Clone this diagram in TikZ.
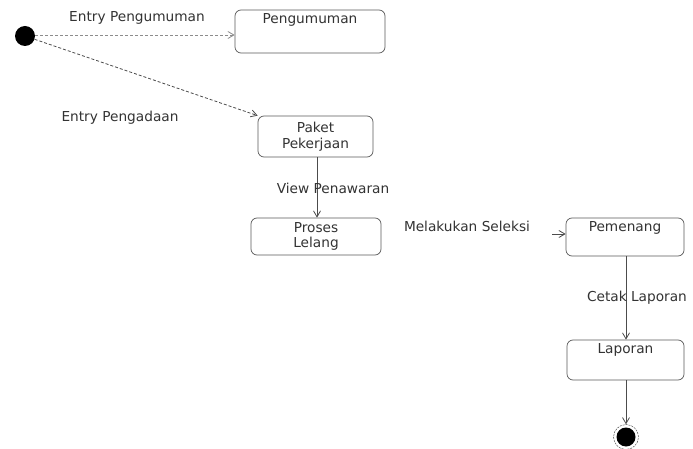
\documentclass[tikz,border=0pt]{standalone}
\usepackage{fontspec}
\setmainfont{DejaVu Sans}
\usetikzlibrary{arrows.meta}
\begin{document}
\begin{tikzpicture}[x=1pt,y=-1pt,
  font=\fontsize{13.7}{15.5}\selectfont,
  statebox/.style={draw=black!65, line width=0.7pt, rounded corners=6pt, inner sep=0pt, fill=white},
  tlabel/.style={text=black!80, inner sep=0pt, align=center},
  flow/.style={draw=black!70, line width=0.8pt, -{Straight Barb[length=6pt,width=7pt]}},
  dflow/.style={flow, dash pattern=on 3pt off 2pt},
]
\useasboundingbox[fill=white] (0,0) rectangle (693,449);

% states
\node[circle, fill=black, minimum size=20pt, inner sep=0pt] (init) at (25,36) {};
\node[statebox, minimum width=150pt, minimum height=43pt,
      label={[tlabel, anchor=north, yshift=-4pt]north:Pengumuman}] (peng) at (310,31.5) {};
\node[statebox, minimum width=115pt, minimum height=41pt, tlabel] (paket) at (315.5,136.5) {Paket\\Pekerjaan};
\node[statebox, minimum width=130pt, minimum height=37pt, tlabel] (proses) at (316,236.5) {Proses\\Lelang};
\node[statebox, minimum width=118pt, minimum height=38pt,
      label={[tlabel, anchor=north, yshift=-4pt]north:Pemenang}] (pemenang) at (625,237) {};
\node[statebox, minimum width=117pt, minimum height=40pt,
      label={[tlabel, anchor=north, yshift=-4pt]north:Laporan}] (laporan) at (625.5,360) {};
\node[circle, fill=black, minimum size=19pt, inner sep=0pt] (final) at (626,437) {};
\node[circle, draw=black!80, dash pattern=on 2pt off 1pt, minimum size=25pt, inner sep=0pt] (finalring) at (626,437) {};

% transitions
\draw[dflow, draw=black!45] (init.east) ++(0,-1) coordinate (initE) -- (peng.west |- initE);
\draw[dflow] (init) -- (paket.north west);
\draw[flow] (paket.south -| 317,0) coordinate (pkS) -- (proses.north -| pkS);
\coordinate (selStart) at (552,234);
\draw[flow] (selStart) -- (pemenang.west |- selStart);
\draw[flow] (pemenang.south -| 626,0) coordinate (pmS) -- (laporan.north -| pmS);
\draw[flow] (laporan.south -| 626,0) coordinate (lpS) -- (finalring.north);

% transition labels
\node[tlabel] (lbl1) at (137,18) {Entry Pengumuman};
\node[tlabel] (lbl2) at (120,118) {Entry Pengadaan};
\node[tlabel] (lbl3) at (333,188) {View Penawaran};
\node[tlabel] (lbl4) at (467,226) {Melakukan Seleksi};
\node[tlabel] (lbl5) at (637,298) {Cetak Laporan};
\end{tikzpicture}
\end{document}
